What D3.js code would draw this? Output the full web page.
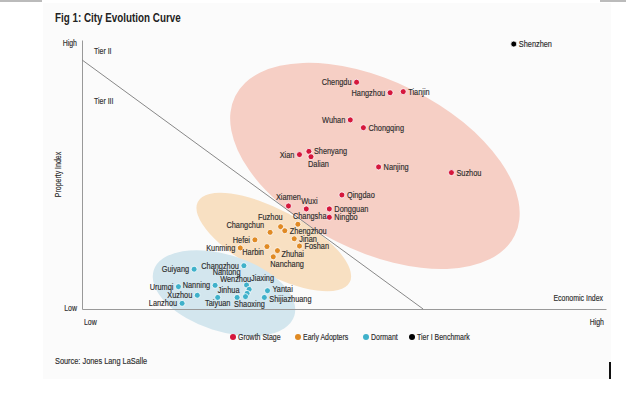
<!DOCTYPE html>
<html>
<head>
<meta charset="utf-8">
<script src="https://cdn.jsdelivr.net/npm/d3@7"></script>
<style>
  body { margin: 0; background: #fff; }
  text { font-family: "Liberation Sans Narrow", "Arial Narrow", "Liberation Sans", Arial, sans-serif; fill: #2b2b2b; stroke: #2b2b2b; stroke-width: 0.15px; }
</style>
</head>
<body>
<div id="chart"></div>
<script>
// values (0-100 index on both axes)
// [city, economic index, property index, label side]
const growthStage = [
  ["Chengdu", 52.4, 84.3, "l"],
  ["Hangzhou", 58.8, 80.4, "l"],
  ["Tianjin", 61.3, 80.8, "r"],
  ["Wuhan", 51.2, 70.3, "l"],
  ["Chongqing", 53.7, 67.4, "r"],
  ["Xian", 41.5, 57.4, "l"],
  ["Shenyang", 43.3, 58.6, "r"],
  ["Dalian", 43.7, 56.6, "bs"],
  ["Nanjing", 56.6, 52.8, "r"],
  ["Suzhou", 70.5, 50.7, "r"],
  ["Qingdao", 49.6, 42.4, "r"],
  ["Xiamen", 39.4, 38.3, "t"],
  ["Wuxi", 42.8, 37.2, "tr"],
  ["Dongguan", 47.2, 37.2, "r"],
  ["Ningbo", 47.2, 34.1, "r"]
];
const earlyAdopters = [
  ["Changsha", 41.2, 31.5, "tr"],
  ["Fuzhou", 37.9, 30.6, "tl"],
  ["Zhengzhou", 38.7, 29.1, "r"],
  ["Changchun", 35.9, 28.5, "ul"],
  ["Jinan", 40.5, 26.1, "r"],
  ["Hefei", 33.0, 25.7, "l"],
  ["Kunming", 30.2, 22.7, "l"],
  ["Harbin", 35.3, 23.2, "bl"],
  ["Foshan", 41.5, 23.4, "r"],
  ["Zhuhai", 37.3, 21.7, "br"],
  ["Nanchang", 36.5, 19.4, "bs"]
];
const dormant = [
  ["Guiyang", 21.4, 14.8, "l"],
  ["Changzhou", 30.9, 16.1, "l"],
  ["Nantong", 31.4, 8.9, "ul2"],
  ["Wenzhou", 31.9, 7.3, "tl"],
  ["Jiaxing", 31.5, 5.8, "ur2"],
  ["Jinhua", 31.2, 4.6, "ul"],
  ["Yantai", 35.4, 6.8, "ru"],
  ["Shijiazhuang", 34.8, 4.3, "rd"],
  ["Shaoxing", 29.6, 4.3, "bs"],
  ["Taiyuan", 25.9, 4.3, "b"],
  ["Nanning", 25.4, 8.8, "l"],
  ["Urumqi", 18.4, 8.3, "l"],
  ["Xuzhou", 22.0, 5.1, "l"],
  ["Lanzhou", 19.1, 2.1, "l"]
];
const tierOne = [
  ["Shenzhen", 82.4, 98.5, "r"]
];

// cluster envelopes: [group, centre x, centre y, half length, half width, tilt deg]
const envelopes = [
  ["Growth Stage", 55.9, 53.2, 29.8, 16.2, 26.5],
  ["Early Adopters", 36.6, 24.9, 16.4, 6.1, 28],
  ["Dormant", 27.1, 5.9, 14.1, 7.3, 18]
];

// dividing line between tiers: [economic, property]
const tierLine = [[0, 92.6], [65.1, 0]];

const groups = ["Growth Stage", "Early Adopters", "Dormant", "Tier I Benchmark"];
const dotColors = ["#d5173c", "#e08a24", "#3fb1ca", "#000"];
const fillColors = ["#f6cfc5", "#f8e0c2", "#d3e6ee"];

const width = 626, height = 398;
const narrow = 0.82; // no narrow face installed, squeeze the regular one
const svg = d3.select("#chart").append("svg")
  .attr("width", width)
  .attr("height", height);

// light page panel + the little rules at the edges
svg.append("rect").attr("x", 43).attr("y", 3).attr("width", 568).attr("height", 376).attr("fill", "#fbfbfb");
svg.append("rect").attr("x", 0).attr("y", 0).attr("width", 42).attr("height", 2).attr("fill", "#bbb");
svg.append("rect").attr("x", 600).attr("y", 0).attr("width", 26).attr("height", 2).attr("fill", "#bbb");
svg.append("rect").attr("x", 609).attr("y", 362).attr("width", 2).attr("height", 17).attr("fill", "#111");

function label(txt, px, py, anchor, size, rot) {
  return svg.append("text")
    .attr("transform", "translate(" + px + "," + py + ")" + (rot ? " rotate(" + rot + ")" : "") + " scale(" + narrow + ",1)")
    .attr("text-anchor", anchor || "start")
    .style("font-size", size || "8.5px")
    .text(txt);
}

label("Fig 1: City Evolution Curve", 55, 22, "start", "12px")
  .style("font-weight", "bold").style("fill", "#222").style("stroke", "none");

const x = d3.scaleLinear().domain([0, 100]).range([82, 606]);
const y = d3.scaleLinear().domain([0, 100]).range([309, 40]);
const color = d3.scaleOrdinal().domain(groups).range(dotColors);
const fill = d3.scaleOrdinal().domain(groups.slice(0, 3)).range(fillColors);

// ellipses
svg.selectAll(".env")
  .data(envelopes)
  .enter()
  .append("ellipse")
  .attr("class", "env")
  .attr("cx", 0).attr("cy", 0)
  .attr("rx", d => x(d[3]) - x(0))
  .attr("ry", d => x(d[4]) - x(0))
  .attr("transform", d => "translate(" + x(d[1]) + "," + y(d[2]) + ") rotate(" + d[5] + ")")
  .attr("fill", d => fill(d[0]));

// axes (plain lines, no ticks)
svg.append("g")
  .attr("transform", "translate(0," + y(0) + ")")
  .call(d3.axisBottom(x).tickValues([]).tickSizeOuter(0))
  .call(g => g.select(".domain").attr("stroke", "#999"));
svg.append("g")
  .attr("transform", "translate(" + x(0) + ",0)")
  .call(d3.axisLeft(y).tickValues([]).tickSizeOuter(0))
  .call(g => g.select(".domain").attr("stroke", "#999"));

svg.append("path")
  .datum(tierLine)
  .attr("d", d3.line().x(d => x(d[0])).y(d => y(d[1])))
  .attr("stroke", "#888").attr("stroke-width", 1).attr("fill", "none");

label("High", 77, 46, "end");
label("Low", 77, 311, "end");
label("Low", x(0) + 2, 325);
label("High", x(100) - 2, 325, "end");
label("Economic Index", x(100) - 3, 301, "end");
label("Tier II", 94, 54);
label("Tier III", 94, 104);
label("Property Index", 61, y(50), "middle", "8.5px", -90);
label("Source: Jones Lang LaSalle", 55, 364, "start", "9px");

// label placements: [dx, dy, anchor]
const place = {
  l: [-5, 3, "end"], r: [5, 3, "start"], ru: [5, 1.5, "start"], rd: [5, 5, "start"],
  t: [0, -6, "middle"], b: [0, 9, "middle"],
  tl: [2, -7, "end"], tr: [-5, -5, "start"], ul: [-6, -4, "end"],
  ul2: [-6, -10.5, "end"], ur2: [4, -12, "start"],
  bl: [-3, 8, "end"], br: [4, 6, "start"], bs: [-3, 10, "start"]
};

const series = [growthStage, earlyAdopters, dormant, tierOne];
series.forEach((rows, i) => {
  const g = svg.append("g");
  g.selectAll("circle")
    .data(rows)
    .enter()
    .append("circle")
    .attr("cx", d => x(d[1]))
    .attr("cy", d => y(d[2]))
    .attr("r", 3)
    .attr("fill", color(groups[i]))
    .attr("stroke", "#fff").attr("stroke-width", 0.8);
  g.selectAll("text")
    .data(rows)
    .enter()
    .append("text")
    .attr("transform", d => "translate(" + (x(d[1]) + place[d[3]][0]) + "," + (y(d[2]) + place[d[3]][1]) + ") scale(" + narrow + ",1)")
    .attr("text-anchor", d => place[d[3]][2])
    .style("font-size", "9px")
    .text(d => d[0]);
});

// legend
const legendPos = [233, 298, 366, 412];
const lg = svg.selectAll(".lg")
  .data(groups)
  .enter()
  .append("g")
  .attr("class", "lg")
  .attr("transform", (d, i) => "translate(" + legendPos[i] + ",337)");
lg.append("circle").attr("r", 3).attr("fill", d => color(d));
lg.append("text")
  .attr("transform", "translate(5,3) scale(" + narrow + ",1)")
  .style("font-size", "8.5px")
  .text(d => d);
</script>
</body>
</html>
